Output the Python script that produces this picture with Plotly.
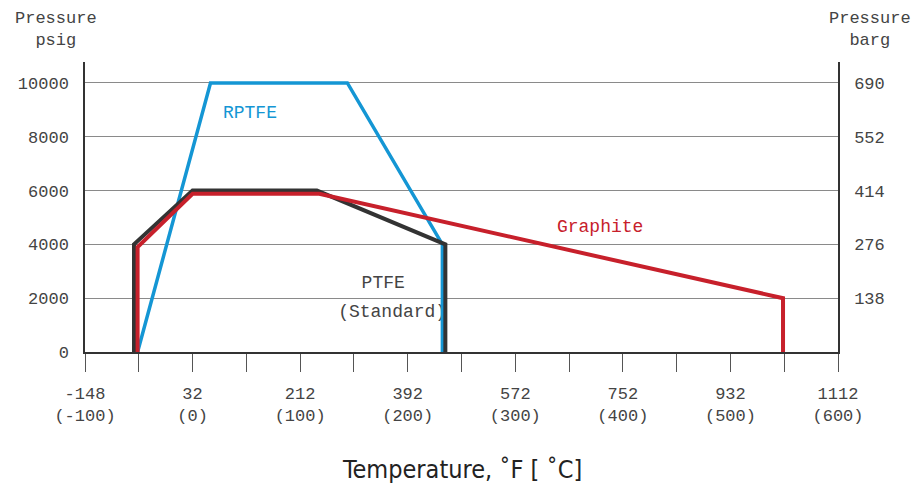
import plotly.graph_objects as go

# ---- data (°F, psig) ----
ptfe_x = [-66, -66, 32, 240, 455, 455]
ptfe_y = [0, 4000, 6000, 6000, 4000, 0]
graphite_x = [-60, -60, 32, 244, 1020, 1020]
graphite_y = [0, 3900, 5880, 5880, 2000, 0]
rptfe_x = [-60, 62, 291, 450, 450]
rptfe_y = [0, 10000, 10000, 4000, 0]

x_tick_vals = [-148, -58, 32, 122, 212, 302, 392, 482, 572, 662, 752, 842, 932, 1022, 1112]
x_major_f = ["-148", "32", "212", "392", "572", "752", "932", "1112"]
x_major_c = ["(-100)", "(0)", "(100)", "(200)", "(300)", "(400)", "(500)", "(600)"]
y_tick_vals = [0, 2000, 4000, 6000, 8000, 10000]
y_tick_text = ["0", "2000", "4000", "6000", "8000", "10000"]
y2_tick_vals = [138, 276, 414, 552, 690]
y2_tick_text = ["138", "276", "414", "552", "690"]
psig_per_barg = 10000 / 690

BLUE = "#1496d4"
RED = "#c7202b"
BLACK = "#333333"
GRAYTXT = "#444444"
MONO = "Liberation Mono, Courier New, monospace"

x_tick_text = []
mi = 0
for i, v in enumerate(x_tick_vals):
    if i % 2 == 0:
        x_tick_text.append(x_major_f[mi] + "<br>" + x_major_c[mi])
        mi += 1
    else:
        x_tick_text.append("")

y_top = 10780
W, H = 918, 483
L, R, T, B = 85, 80, 62, 131

fig = go.Figure()

# text labels first so the lines draw over them
fig.add_trace(go.Scatter(x=[128], y=[8850], mode="text", text=["RPTFE"],
                         textfont=dict(family=MONO, size=18, color=BLUE),
                         showlegend=False, hoverinfo="skip"))
fig.add_trace(go.Scatter(x=[714], y=[4610], mode="text", text=["Graphite"],
                         textfont=dict(family=MONO, size=18, color=RED),
                         showlegend=False, hoverinfo="skip"))
fig.add_trace(go.Scatter(x=[351, 366], y=[2560, 1450], mode="text",
                         text=["PTFE", "(Standard)"],
                         textfont=dict(family=MONO, size=18, color=GRAYTXT),
                         showlegend=False, hoverinfo="skip"))

fig.add_trace(go.Scatter(x=rptfe_x, y=rptfe_y, mode="lines",
                         line=dict(color=BLUE, width=3.5), showlegend=False))
fig.add_trace(go.Scatter(x=ptfe_x, y=ptfe_y, mode="lines",
                         line=dict(color=BLACK, width=4), showlegend=False))
fig.add_trace(go.Scatter(x=graphite_x, y=graphite_y, mode="lines",
                         line=dict(color=RED, width=4), showlegend=False))
# invisible trace to anchor right axis
fig.add_trace(go.Scatter(x=[-148], y=[0], yaxis="y2", mode="markers",
                         marker=dict(opacity=0), showlegend=False, hoverinfo="skip"))

fig.update_layout(
    width=W, height=H,
    margin=dict(l=L, r=R, t=T, b=B, autoexpand=False),
    plot_bgcolor="white", paper_bgcolor="white",
    xaxis=dict(range=[-148, 1112], tickvals=x_tick_vals, ticktext=x_tick_text,
               ticks="outside", ticklen=18, tickcolor="#555555", tickwidth=1,
               showgrid=False, zeroline=False, automargin=False,
               showline=True, linecolor=BLACK, linewidth=1.5,
               ticklabelstandoff=7,
               tickfont=dict(family=MONO, size=17, color=GRAYTXT)),
    yaxis=dict(range=[0, y_top], tickvals=y_tick_vals, ticktext=y_tick_text,
               ticks="", showgrid=True, gridcolor="#8a8a8a", gridwidth=1,
               zeroline=False, showline=True, linecolor=BLACK, linewidth=1.5,
               automargin=False,
               tickfont=dict(family=MONO, size=17, color=GRAYTXT),
               ticklabelstandoff=11),
    yaxis2=dict(range=[0, y_top / psig_per_barg], tickvals=y2_tick_vals,
                ticktext=y2_tick_text,
                overlaying="y", side="right", ticks="", showgrid=False,
                zeroline=False, showline=True, linecolor=BLACK, linewidth=1.5,
                automargin=False,
                tickfont=dict(family=MONO, size=17, color=GRAYTXT),
                ticklabelstandoff=11),
)

pw = W - L - R
ph = H - T - B


def px_to_paper(px, py):
    return (px - L) / pw, (H - B - py) / ph


for txt, xc in [("Pressure<br>psig", 56), ("Pressure<br>barg", 870)]:
    ax, ay = px_to_paper(xc, 29)
    fig.add_annotation(text=txt, x=ax, y=ay, xref="paper", yref="paper",
                       xanchor="center", yanchor="middle", showarrow=False,
                       font=dict(family=MONO, size=17, color=GRAYTXT))

ax, ay = px_to_paper(462, 469)
fig.add_annotation(text="Temperature, ˚F [ ˚C]", x=ax, y=ay, xref="paper", yref="paper",
                   xanchor="center", yanchor="middle", showarrow=False,
                   font=dict(family="DejaVu Sans Condensed, DejaVu Sans", size=25,
                             color="#222222"))

fig.write_html("out.html", config={"displayModeBar": False},
               post_script="document.body.style.margin='0';document.body.style.overflow='hidden';")
